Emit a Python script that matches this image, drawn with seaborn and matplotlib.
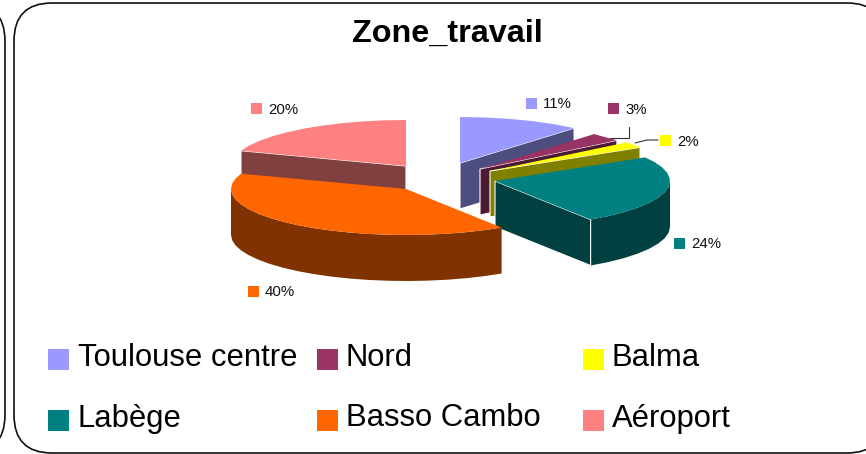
# Import libraries
import numpy as np
import seaborn as sns
import matplotlib.pyplot as plt
from matplotlib.patches import FancyBboxPatch, Rectangle

# Data
zones = ["Toulouse centre", "Nord", "Balma", "Labège", "Basso Cambo", "Aéroport"]
shares = [11.3, 3.0, 2.1, 24.4, 39.6, 19.6]
hex_colors = ["#9999FF", "#993366", "#FFFF00", "#008080", "#FF6600", "#FF8080"]
title = "Zone_travail"

# Layout of the exploded pie, in pixels
apex_x = [460, 480, 490, 495, 406, 406]
apex_y = [163, 169, 171, 181, 189, 166]
rx, ry, depth = 175, 46, 46
draw_order = [5, 0, 1, 2, 3, 4]

# Small labels beside the slices (swatch corner)
tag_x = [526, 608, 660, 674, 248, 251]
tag_y = [98, 103, 135, 238, 286, 103]

# Legend
legend_x = [48, 317, 583, 48, 317, 583]
legend_y = [349, 349, 349, 410, 410, 410]

sns.set_theme(style="white")
plt.rcParams["font.family"] = ["Liberation Sans", "DejaVu Sans"]

palette = sns.color_palette(hex_colors)
shades = [tuple(c * 0.5 for c in col) for col in palette]

fig = plt.figure(figsize=(8.66, 4.54), dpi=100)
ax = fig.add_axes([0, 0, 1, 1])
ax.set_xlim(0, 866)
ax.set_ylim(454, 0)
ax.axis("off")

# Panel frames
for x0, x1 in [(14, 885), (-200, 5)]:
    ax.add_patch(FancyBboxPatch((x0 + 38, 3 + 38), x1 - x0 - 76, 450 - 76,
                                boxstyle="round,pad=38", fc="white", ec="#111111",
                                lw=1.2, zorder=1))

ax.text(447, 33.5, title, fontsize=23.3, fontweight="bold", ha="center", va="center",
        color="black")


def rim_xy(cx, cy, deg):
    t = np.radians(deg)
    return cx + rx * np.sin(t), cy - ry * np.cos(t)


# Slices, angles run clockwise from 12 o'clock
edges = np.cumsum([0] + shares) * 3.6
z = 2
for i in draw_order:
    a0, a1 = edges[i], edges[i + 1]
    cx, cy = apex_x[i], apex_y[i]

    # outer wall, only the part facing the viewer
    w0, w1 = max(a0, 90), min(a1, 270)
    if w1 > w0:
        t = np.linspace(w0, w1, max(int((w1 - w0) / 6), 2))
        xs, ys = rim_xy(cx, cy, t)
        ax.fill(np.r_[xs, xs[::-1]], np.r_[ys, ys[::-1] + depth], color=shades[i],
                lw=0, zorder=z)
        z += 1

    # cut wall
    cut = a1 if a1 < 180 else a0 if a0 > 180 else None
    if cut is not None:
        ex, ey = rim_xy(cx, cy, cut)
        ax.fill([cx, ex, ex, cx], [cy, ey, ey + depth, cy + depth], fc=shades[i],
                ec="white", lw=0.8, zorder=z)
        z += 1

    # top face
    t = np.linspace(a0, a1, max(int((a1 - a0) / 6), 2))
    xs, ys = rim_xy(cx, cy, t)
    ax.fill(np.r_[cx, xs], np.r_[cy, ys], color=palette[i], lw=0, zorder=z)
    z += 1

# Leader lines
ax.plot([629, 629, 610], [127, 138, 138], color="#333333", lw=0.8, zorder=z)
ax.plot([658, 647, 635], [140, 140, 143], color="#333333", lw=0.8, zorder=z)

# Percent tags
for i, share in enumerate(shares):
    ax.add_patch(Rectangle((tag_x[i], tag_y[i]), 11, 11, fc=palette[i], ec="none", zorder=z))
    ax.text(tag_x[i] + 17, tag_y[i] + 6.5, f"{share:.0f}%", fontsize=10.8, va="center",
            color="#111111", zorder=z)

# Legend
for i, zone in enumerate(zones):
    ax.add_patch(Rectangle((legend_x[i], legend_y[i]), 21, 21, fc=palette[i], ec="none", zorder=z))
    ax.text(legend_x[i] + 30 - (i % 3 > 0), legend_y[i] + 8.5, zone, fontsize=22.3, va="center",
            color="black", zorder=z)

fig.savefig("out.png", dpi=100)
